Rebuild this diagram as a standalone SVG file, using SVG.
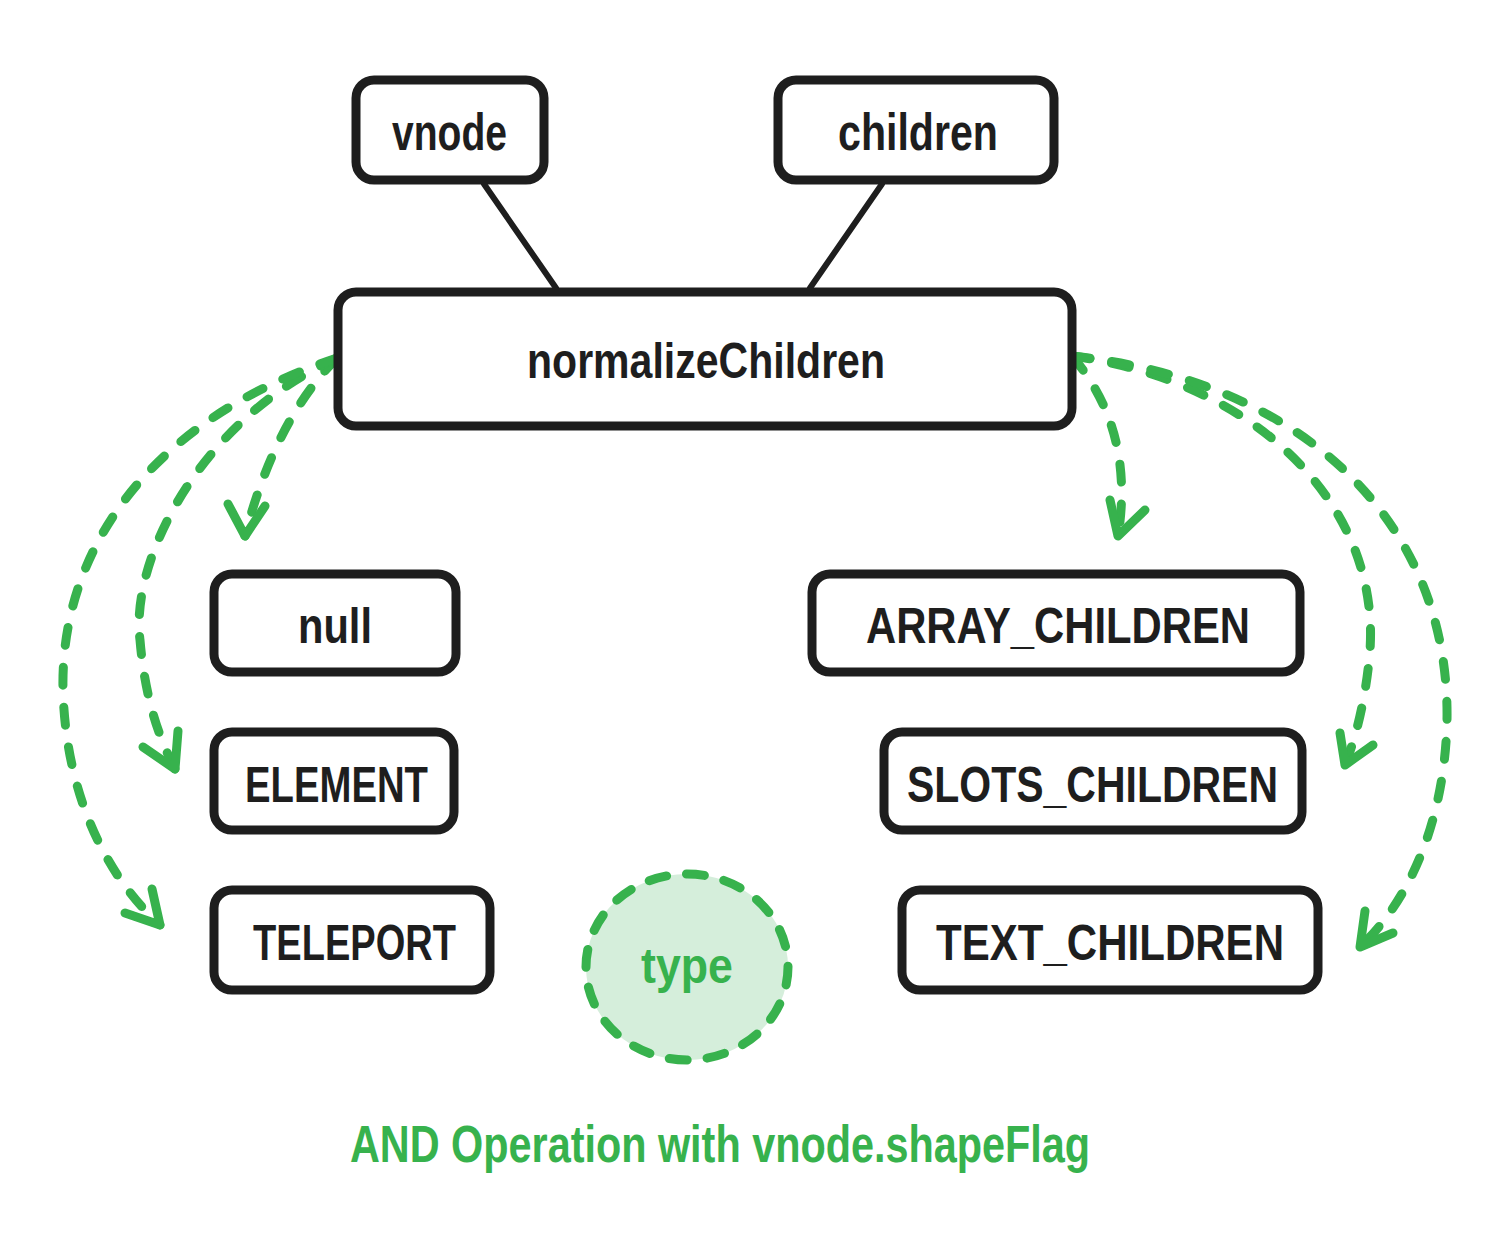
<svg xmlns="http://www.w3.org/2000/svg" width="1511" height="1260" viewBox="0 0 1511 1260">
<style>
.box{fill:#ffffff;stroke:#1e1e1e;stroke-width:9;}
.lbl{font-family:"Liberation Sans Narrow","Liberation Sans",sans-serif;font-weight:bold;fill:#1e1e1e;}
.g{font-family:"Liberation Sans Narrow","Liberation Sans",sans-serif;font-weight:bold;fill:#37b24d;}
.line{stroke:#1e1e1e;stroke-width:6;fill:none;stroke-linecap:round;}
.dash{stroke:#37b24d;stroke-width:9;fill:none;stroke-linecap:round;stroke-dasharray:18 22;}
.head{stroke:#37b24d;stroke-width:9;fill:none;stroke-linecap:round;stroke-linejoin:round;}
</style>
<rect width="1511" height="1260" fill="#ffffff"/>
<g id="connectors">
<path class="line" d="M484,184 L556,288"/>
<path class="line" d="M882,184 L810,288"/>
<path class="dash" d="M337,358 Q275,420 245,536"/>
<path class="head" d="M228,504 L245,536 L265,506"/>
<path class="dash" d="M337,358 C200,420 130,560 140,640 C145,700 160,740 175,769"/>
<path class="head" d="M143,747 L175,769 L178,731"/>
<path class="dash" d="M337,358 C150,420 60,550 63,690 C66,800 110,880 160,925"/>
<path class="head" d="M125,913 L160,925 L152,889"/>
<path class="dash" d="M1072,356 Q1135,430 1118,536"/>
<path class="head" d="M1110,500 L1118,536 L1145,510"/>
<path class="dash" d="M1072,356 C1250,380 1380,500 1370,650 C1366,700 1355,740 1345,765"/>
<path class="head" d="M1340,733 L1345,765 L1373,745"/>
<path class="dash" d="M1072,356 C1300,380 1450,520 1447,720 C1445,820 1410,900 1360,947"/>
<path class="head" d="M1365,911 L1360,947 L1393,933"/>
</g>
<g id="vnode"><rect class="box" x="356" y="80" width="188" height="100" rx="18"/><text class="lbl" x="392" y="150" font-size="52" textLength="115" lengthAdjust="spacingAndGlyphs">vnode</text></g>
<g id="children"><rect class="box" x="778" y="80" width="276" height="100" rx="18"/><text class="lbl" x="838" y="150" font-size="52" textLength="160" lengthAdjust="spacingAndGlyphs">children</text></g>
<g id="normalizeChildren"><rect class="box" x="338" y="292" width="734" height="134" rx="18"/><text class="lbl" x="527" y="378" font-size="50" textLength="358" lengthAdjust="spacingAndGlyphs">normalizeChildren</text></g>
<g id="null"><rect class="box" x="214" y="574" width="242" height="98" rx="18"/><text class="lbl" x="298" y="643" font-size="50" textLength="74" lengthAdjust="spacingAndGlyphs">null</text></g>
<g id="element"><rect class="box" x="214" y="732" width="240" height="98" rx="18"/><text class="lbl" x="245" y="802" font-size="50" textLength="183" lengthAdjust="spacingAndGlyphs">ELEMENT</text></g>
<g id="teleport"><rect class="box" x="214" y="890" width="276" height="100" rx="18"/><text class="lbl" x="253" y="960" font-size="50" textLength="203" lengthAdjust="spacingAndGlyphs">TELEPORT</text></g>
<g id="array_children"><rect class="box" x="812" y="574" width="488" height="98" rx="18"/><text class="lbl" x="866" y="643" font-size="50" textLength="384" lengthAdjust="spacingAndGlyphs">ARRAY_CHILDREN</text></g>
<g id="slots_children"><rect class="box" x="884" y="732" width="418" height="98" rx="18"/><text class="lbl" x="907" y="802" font-size="50" textLength="371" lengthAdjust="spacingAndGlyphs">SLOTS_CHILDREN</text></g>
<g id="text_children"><rect class="box" x="902" y="890" width="416" height="100" rx="18"/><text class="lbl" x="936" y="960" font-size="50" textLength="348" lengthAdjust="spacingAndGlyphs">TEXT_CHILDREN</text></g>
<g id="type"><ellipse cx="687" cy="967" rx="101" ry="93" fill="#d5eedb" stroke="#37b24d" stroke-width="9" stroke-dasharray="18 20" stroke-linecap="round"/><text class="g" x="641" y="983" font-size="50" textLength="92" lengthAdjust="spacingAndGlyphs">type</text></g>
<g id="caption"><text class="g" x="350" y="1162" font-size="52" textLength="740" lengthAdjust="spacingAndGlyphs">AND Operation with vnode.shapeFlag</text></g>
</svg>
